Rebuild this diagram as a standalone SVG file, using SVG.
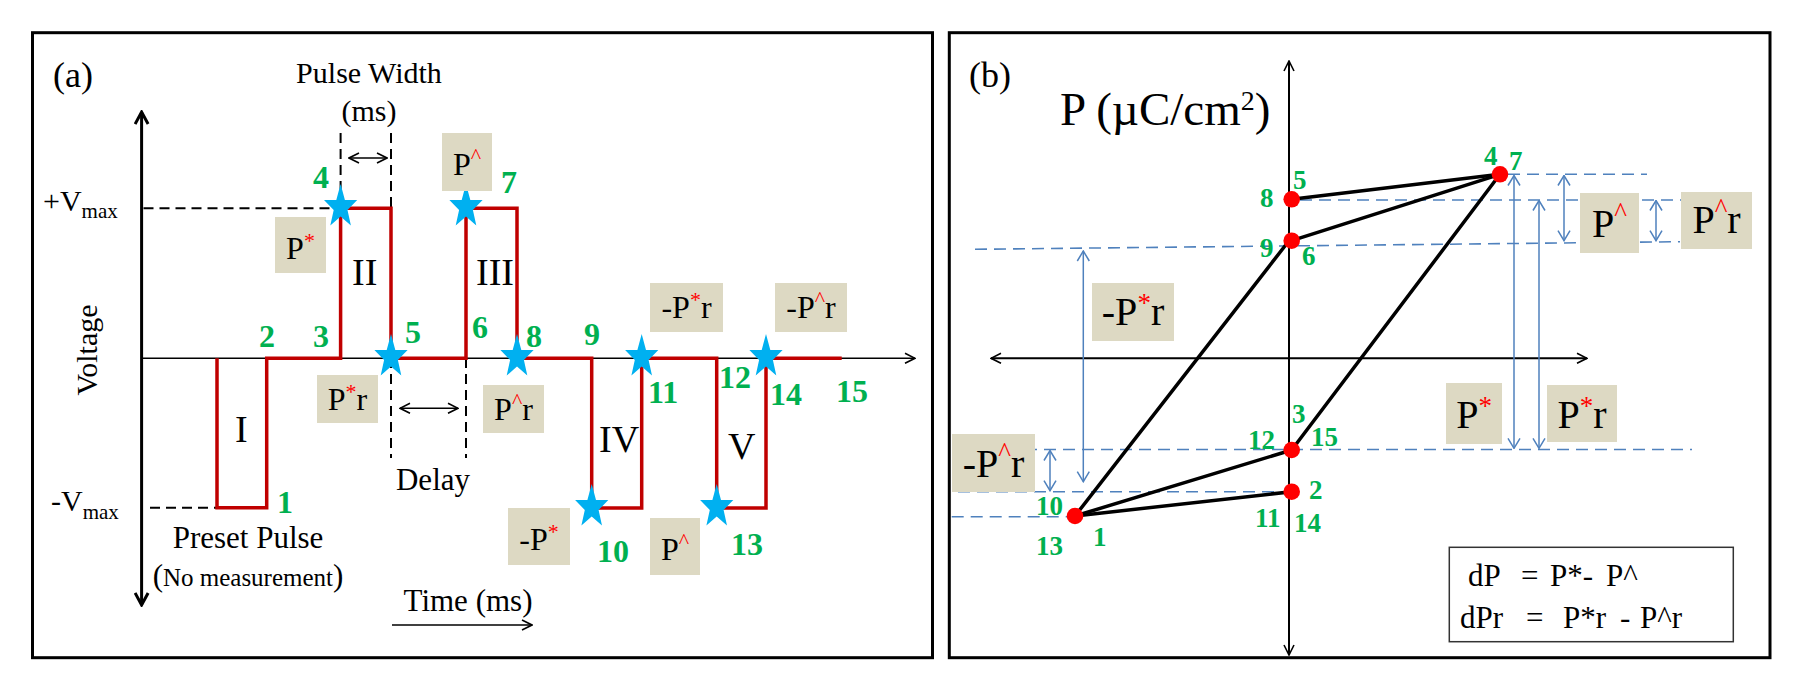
<svg xmlns="http://www.w3.org/2000/svg" width="1800" height="700" viewBox="0 0 1800 700">
<style>
.frame{fill:none;stroke:#000;stroke-width:3}
.t{font-family:"Liberation Serif","Times New Roman",serif;fill:#000}
.g{font-family:"Liberation Serif","Times New Roman",serif;font-weight:bold;fill:#00B050}
.ga{font-size:32px}
.gb{font-size:27px}
.sup{fill:#FF0000}
.box{fill:#DDD9C3}
.dash{fill:none;stroke:#000;stroke-width:2;stroke-dasharray:10 6}
.bdash{fill:none;stroke:#4F81BD;stroke-width:1.6;stroke-dasharray:12 7}
.barrow{fill:none;stroke:#4F81BD;stroke-width:1.5;marker-start:url(#ahBlue);marker-end:url(#ahBlue)}
.wave{fill:none;stroke:#C00000;stroke-width:3.5;stroke-linejoin:miter}
.loop{fill:none;stroke:#000;stroke-width:3.5;stroke-linecap:round}
.dot{fill:#FF0000}
.star{fill:#00B0F0}
</style>
<defs>
<marker id="ahBlack" viewBox="0 0 12 12" refX="11" refY="6" markerWidth="12" markerHeight="12" markerUnits="userSpaceOnUse" orient="auto-start-reverse">
<path d="M1,1 L11,6 L1,11" fill="none" stroke="#000" stroke-width="1.6"/>
</marker>
<marker id="ahThick" viewBox="0 0 16 16" refX="14" refY="8" markerWidth="16" markerHeight="16" markerUnits="userSpaceOnUse" orient="auto-start-reverse">
<path d="M2,1.5 L14,8 L2,14.5" fill="none" stroke="#000" stroke-width="3"/>
</marker>
<marker id="ahBlue" viewBox="0 0 12 14" refX="11" refY="7" markerWidth="12" markerHeight="14" markerUnits="userSpaceOnUse" orient="auto-start-reverse">
<path d="M1,1 L11,7 L1,13" fill="none" stroke="#4F81BD" stroke-width="1.5"/>
</marker>
<path id="star" d="M0,-23 L4.3,-7.1 L16.6,-7.1 L6.9,3 L10.3,18.6 L0,9.6 L-10.3,18.6 L-6.9,3 L-16.6,-7.1 L-4.3,-7.1 Z"/>
</defs>
<rect width="1800" height="700" fill="#fff"/>

<!-- ================= PANEL (a) ================= -->
<g id="panel-a">
<rect class="frame" x="32.5" y="32.7" width="900" height="625"/>
<text class="t" x="53" y="87" font-size="36">(a)</text>

<g id="axes-a">
<line x1="141.6" y1="112" x2="141.6" y2="605" stroke="#000" stroke-width="3" marker-start="url(#ahThick)" marker-end="url(#ahThick)"/>
<line x1="141.6" y1="358.3" x2="915" y2="358.3" stroke="#000" stroke-width="1.5" marker-end="url(#ahBlack)"/>
<text class="t" font-size="30" text-anchor="middle" transform="translate(97,350) rotate(-90)">Voltage</text>
<text class="t" x="43" y="211" font-size="30">+V<tspan font-size="21" dy="7">max</tspan></text>
<text class="t" x="51" y="511" font-size="30">-V<tspan font-size="21" dy="8">max</tspan></text>
<line class="dash" x1="143.5" y1="208.3" x2="336" y2="208.3"/>
<line class="dash" x1="150" y1="507.7" x2="217" y2="507.7"/>
</g>

<g id="connectors-a">
<line class="dash" x1="340.6" y1="133" x2="340.6" y2="200"/>
<line class="dash" x1="391" y1="133" x2="391" y2="208"/>
<line x1="349" y1="158" x2="387" y2="158" stroke="#000" stroke-width="1.4" marker-start="url(#ahBlack)" marker-end="url(#ahBlack)"/>
<line class="dash" x1="391" y1="358" x2="391" y2="458"/>
<line class="dash" x1="466" y1="358" x2="466" y2="458"/>
<line x1="400" y1="408.3" x2="458" y2="408.3" stroke="#000" stroke-width="1.4" marker-start="url(#ahBlack)" marker-end="url(#ahBlack)"/>
<line x1="392" y1="625" x2="532" y2="625" stroke="#000" stroke-width="1.5" marker-end="url(#ahBlack)"/>
</g>

<g id="waveform">
<path class="wave" d="M217,358.3 V507.7 H266.7 V358.3 H340.6 V208.3 H391 V358.3 H466 V208.3 H517 V358.3 H591.7 V508 H641.7 V358.3 H716.7 V508 H766 V358.3 H841.7"/>
</g>

<g id="stars">
<use href="#star" class="star" x="340.6" y="207"/>
<use href="#star" class="star" x="391" y="357"/>
<use href="#star" class="star" x="466" y="207"/>
<use href="#star" class="star" x="517" y="357"/>
<use href="#star" class="star" x="591.7" y="507"/>
<use href="#star" class="star" x="641.7" y="357"/>
<use href="#star" class="star" x="716.7" y="507"/>
<use href="#star" class="star" x="766" y="357"/>
</g>

<g id="pulse-labels">
<text class="t" x="352" y="285" font-size="38">II</text>
<text class="t" x="476" y="285" font-size="38">III</text>
<text class="t" x="235" y="442" font-size="38">I</text>
<text class="t" x="599" y="452" font-size="38">IV</text>
<text class="t" x="728" y="459" font-size="38">V</text>
<text class="t" x="369" y="83" font-size="30" text-anchor="middle">Pulse Width</text>
<text class="t" x="369" y="121" font-size="30" text-anchor="middle">(ms)</text>
<text class="t" x="433" y="490" font-size="31" text-anchor="middle">Delay</text>
<text class="t" x="248" y="548" font-size="31" text-anchor="middle">Preset Pulse</text>
<text class="t" x="248" y="586" font-size="25" text-anchor="middle"><tspan font-size="31">(</tspan>No measurement<tspan font-size="31">)</tspan></text>
<text class="t" x="468" y="611" font-size="31" text-anchor="middle">Time (ms)</text>
</g>

<g id="nums-a" class="g ga">
<text x="313" y="188">4</text>
<text x="501" y="193">7</text>
<text x="259" y="347">2</text>
<text x="313" y="347">3</text>
<text x="405" y="343">5</text>
<text x="472" y="338">6</text>
<text x="526" y="347">8</text>
<text x="584" y="345">9</text>
<text x="648" y="403">11</text>
<text x="719" y="388">12</text>
<text x="770" y="405">14</text>
<text x="836" y="402">15</text>
<text x="597" y="562">10</text>
<text x="731" y="555">13</text>
<text x="277" y="513">1</text>
</g>

<g id="box-a-Pstar">
<rect class="box" x="275" y="217" width="51" height="56"/>
<text class="t" x="300.5" y="259" font-size="32" text-anchor="middle">P<tspan class="sup" font-size="22" dy="-11">*</tspan></text>
</g>
<g id="box-a-Phat">
<rect class="box" x="442" y="133" width="50" height="58"/>
<text class="t" x="467" y="175" font-size="32" text-anchor="middle">P<tspan class="sup" font-size="22" dy="-12">^</tspan></text>
</g>
<g id="box-a-Pstar-r">
<rect class="box" x="317" y="375" width="61" height="48"/>
<text class="t" x="347.5" y="410" font-size="32" text-anchor="middle">P<tspan class="sup" font-size="22" dy="-11">*</tspan><tspan dy="11">r</tspan></text>
</g>
<g id="box-a-Phat-r">
<rect class="box" x="483" y="385" width="61" height="48"/>
<text class="t" x="513.5" y="420" font-size="32" text-anchor="middle">P<tspan class="sup" font-size="22" dy="-12">^</tspan><tspan dy="12">r</tspan></text>
</g>
<g id="box-a-mPstar">
<rect class="box" x="508" y="508" width="62" height="57"/>
<text class="t" x="539" y="550" font-size="32" text-anchor="middle">-P<tspan class="sup" font-size="22" dy="-11">*</tspan></text>
</g>
<g id="box-a-Phat2">
<rect class="box" x="650" y="518" width="50" height="57"/>
<text class="t" x="675" y="560" font-size="32" text-anchor="middle">P<tspan class="sup" font-size="22" dy="-12">^</tspan></text>
</g>
<g id="box-a-mPstar-r">
<rect class="box" x="650" y="283" width="73" height="49"/>
<text class="t" x="686.5" y="318" font-size="32" text-anchor="middle">-P<tspan class="sup" font-size="22" dy="-11">*</tspan><tspan dy="11">r</tspan></text>
</g>
<g id="box-a-mPhat-r">
<rect class="box" x="775" y="283" width="72" height="49"/>
<text class="t" x="811" y="318" font-size="32" text-anchor="middle">-P<tspan class="sup" font-size="22" dy="-12">^</tspan><tspan dy="12">r</tspan></text>
</g>
</g>

<!-- ================= PANEL (b) ================= -->
<g id="panel-b">
<rect class="frame" x="949.3" y="32.7" width="820.7" height="625"/>
<text class="t" x="969" y="87" font-size="36">(b)</text>
<text class="t" x="1060" y="125" font-size="47">P (µC/cm<tspan font-size="28" dy="-15">2</tspan><tspan dy="15">)</tspan></text>

<g id="axes-b">
<line x1="1289" y1="61" x2="1289" y2="655" stroke="#000" stroke-width="2" marker-start="url(#ahBlack)" marker-end="url(#ahBlack)"/>
<line x1="991" y1="358.3" x2="1587" y2="358.3" stroke="#000" stroke-width="2" marker-start="url(#ahBlack)" marker-end="url(#ahBlack)"/>
</g>

<g id="guides-b">
<line class="bdash" x1="1508" y1="174.3" x2="1647" y2="174.3"/>
<line class="bdash" x1="1300" y1="200" x2="1682" y2="200"/>
<line class="bdash" x1="975" y1="249.3" x2="1680" y2="241.7"/>
<line class="bdash" x1="968" y1="449.5" x2="1692" y2="449.5"/>
<line class="bdash" x1="958" y1="491.7" x2="1291" y2="491.7"/>
<line class="bdash" x1="951.7" y1="516.7" x2="1075" y2="516.7"/>
</g>

<g id="connectors-b">
<line class="barrow" x1="1083.3" y1="251" x2="1083.3" y2="481.7"/>
<line class="barrow" x1="1050" y1="450.5" x2="1050" y2="490.7"/>
<line class="barrow" x1="1514" y1="175.5" x2="1514" y2="448.3"/>
<line class="barrow" x1="1539" y1="200.5" x2="1539" y2="448.3"/>
<line class="barrow" x1="1564" y1="175.5" x2="1564" y2="240.7"/>
<line class="barrow" x1="1656" y1="200.5" x2="1656" y2="240.7"/>
</g>

<g id="loop">
<line class="loop" x1="1075" y1="516" x2="1289" y2="240.7"/>
<line class="loop" x1="1291.7" y1="199.3" x2="1500" y2="174.3"/>
<line class="loop" x1="1291.7" y1="240.7" x2="1500" y2="174.3"/>
<line class="loop" x1="1500" y1="174.3" x2="1291.7" y2="450"/>
<line class="loop" x1="1291.7" y1="450" x2="1075" y2="516"/>
<line class="loop" x1="1291.7" y1="491.7" x2="1075" y2="516"/>
</g>

<g id="dots">
<circle id="pt-5-8" class="dot" cx="1291.7" cy="199.3" r="8.3"/>
<circle id="pt-9-6" class="dot" cx="1291.7" cy="240.7" r="8.3"/>
<circle id="pt-4-7" class="dot" cx="1500" cy="174.3" r="8.3"/>
<circle id="pt-12-15-3" class="dot" cx="1291.7" cy="450" r="8.3"/>
<circle id="pt-2-11-14" class="dot" cx="1291.7" cy="491.7" r="8.3"/>
<circle id="pt-10-13-1" class="dot" cx="1075" cy="516" r="8.3"/>
</g>

<g id="nums-b" class="g gb">
<text x="1293" y="189">5</text>
<text x="1260" y="207">8</text>
<text x="1260" y="257">9</text>
<text x="1302" y="265">6</text>
<text x="1484" y="165">4</text>
<text x="1509" y="170">7</text>
<text x="1292" y="423">3</text>
<text x="1248" y="449">12</text>
<text x="1311" y="446">15</text>
<text x="1309" y="499">2</text>
<text x="1255" y="527">11</text>
<text x="1294" y="532">14</text>
<text x="1036" y="515">10</text>
<text x="1036" y="555">13</text>
<text x="1093" y="546">1</text>
</g>

<g id="box-b-mPstar-r">
<rect class="box" x="1092" y="283" width="82" height="58"/>
<text class="t" x="1133" y="325" font-size="40" text-anchor="middle">-P<tspan class="sup" font-size="27" dy="-13">*</tspan><tspan dy="13">r</tspan></text>
</g>
<g id="box-b-Phat">
<rect class="box" x="1580" y="193" width="59" height="60"/>
<text class="t" x="1609.5" y="237" font-size="40" text-anchor="middle">P<tspan class="sup" font-size="27" dy="-16">^</tspan></text>
</g>
<g id="box-b-Phat-r">
<rect class="box" x="1681" y="192" width="71" height="57"/>
<text class="t" x="1716.5" y="233" font-size="40" text-anchor="middle">P<tspan class="sup" font-size="27" dy="-16">^</tspan><tspan dy="16">r</tspan></text>
</g>
<g id="box-b-Pstar">
<rect class="box" x="1446" y="383" width="56" height="61"/>
<text class="t" x="1474" y="428" font-size="40" text-anchor="middle">P<tspan class="sup" font-size="27" dy="-13">*</tspan></text>
</g>
<g id="box-b-Pstar-r">
<rect class="box" x="1547" y="385" width="70" height="57"/>
<text class="t" x="1582" y="428" font-size="40" text-anchor="middle">P<tspan class="sup" font-size="27" dy="-13">*</tspan><tspan dy="13">r</tspan></text>
</g>
<g id="box-b-mPhat-r">
<rect class="box" x="952" y="434" width="83" height="58"/>
<text class="t" x="993.5" y="477" font-size="40" text-anchor="middle">-P<tspan class="sup" font-size="27" dy="-16">^</tspan><tspan dy="16">r</tspan></text>
</g>

<g id="formula">
<rect x="1449.3" y="547.3" width="284" height="94.4" fill="#fff" stroke="#333" stroke-width="1.5"/>
<text class="t" y="586" font-size="31"><tspan x="1468">dP</tspan><tspan x="1521">=</tspan><tspan x="1550">P*-</tspan><tspan x="1606">P^</tspan></text>
<text class="t" y="628" font-size="31"><tspan x="1460">dPr</tspan><tspan x="1526">=</tspan><tspan x="1563">P*r</tspan><tspan x="1620">-</tspan><tspan x="1640">P^r</tspan></text>
</g>
</g>
</svg>
